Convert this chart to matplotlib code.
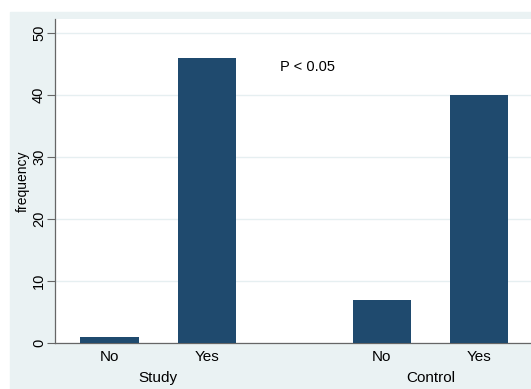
import matplotlib
matplotlib.use("Agg")
import matplotlib.pyplot as plt
from matplotlib.patches import Rectangle
from matplotlib.transforms import blended_transform_factory

# data
groups = ["Study", "Control"]
answers = ["No", "Yes"]
freq = {"Study": [1, 46], "Control": [7, 40]}
yticks = [0, 10, 20, 30, 40, 50]
note = "P < 0.05"
note_y = 44.6

NAVY = "#1f4a6e"
BG = "#eaf2f3"
GRID = "#e6eff1"
AXC = "#666666"

plt.rcParams["font.family"] = ["Liberation Sans", "DejaVu Sans"]

W, H = 531, 389
fig = plt.figure(figsize=(W / 100, H / 100), dpi=100, facecolor="white")
fig.patches.append(Rectangle((10 / W, 0), 1, (H - 12) / H,
                             transform=fig.transFigure, color=BG, zorder=-5))

ax = fig.add_axes([55 / W, (H - 343.3) / H, (W - 55) / W, (343.3 - 19) / H])
ax.set_facecolor("white")

gap = 2.795  # start of the second group, in bar spacings
pos, heights, labels, centres = [], [], [], []
for g, grp in enumerate(groups):
    xs = [g * gap + i for i in range(len(answers))]
    pos += xs
    heights += freq[grp]
    labels += answers
    centres.append(sum(xs) / len(xs))

ax.bar(pos, heights, width=0.6, color=NAVY, zorder=3)
x0 = pos[0] - 0.562
ax.set_xlim(x0, pos[-1] + 0.534)
ax.set_ylim(0, 52.3)
ax.set_xticks(pos)
ax.set_xticklabels(labels, fontsize=11)
ax.tick_params(axis="x", length=0, pad=5)
ax.set_yticks(yticks)
ax.set_yticklabels([str(t) for t in yticks], rotation=90, va="center", fontsize=10.5)
ax.tick_params(axis="y", length=6, color=AXC, width=0.8, pad=0.5)
ax.grid(axis="y", color=GRID, lw=1.0, zorder=0)
for s in ("top", "right"):
    ax.spines[s].set_visible(False)
for s in ("left", "bottom"):
    ax.spines[s].set_color(AXC)
    ax.spines[s].set_linewidth(0.9)
ax.set_ylabel("frequency", fontsize=10, va="center")
ax.yaxis.set_label_coords(-(55 - 23) / (W - 55), 0.5)

tr = blended_transform_factory(ax.transData, ax.transAxes)
for c, grp in zip(centres, groups):
    ax.text(c, -(378 - 343.3) / (343.3 - 19), grp, transform=tr,
            ha="center", va="center", fontsize=11)

ax.text(x0 + (307.5 - 55) / 97.3, note_y, note, fontsize=10.5, ha="center", va="center")

fig.savefig("out.png", dpi=100, facecolor="white")
